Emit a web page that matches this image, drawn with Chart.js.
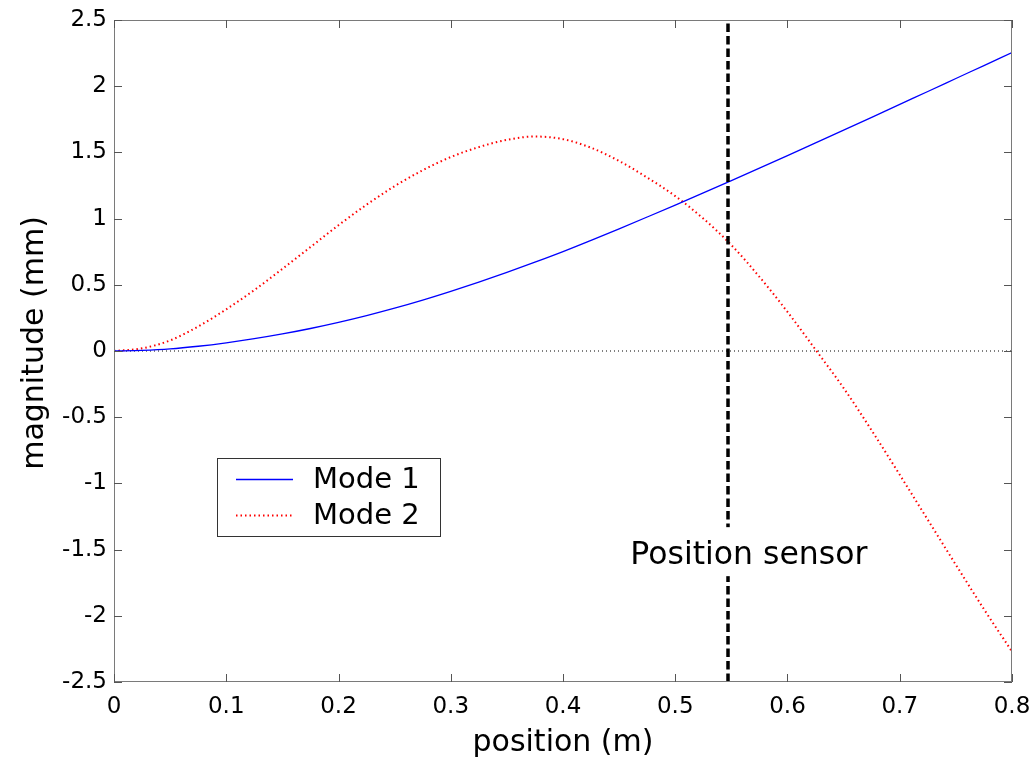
<!DOCTYPE html>
<html>
<head>
<meta charset="utf-8">
<script src="https://cdn.jsdelivr.net/npm/chart.js@4.4.1/dist/chart.umd.min.js"></script>
<style>
  html, body { margin: 0; padding: 0; background: #fff; }
  #wrap { width: 1033px; height: 757px; }
</style>
</head>
<body>
<div id="wrap"><canvas id="chart" width="1033" height="757"></canvas></div>
<script>
// positions along the beam (m)
const positions = [0, 0.025, 0.05, 0.075, 0.1, 0.125, 0.15, 0.175, 0.2, 0.225, 0.25, 0.275, 0.3,
  0.325, 0.35, 0.375, 0.4, 0.425, 0.45, 0.475, 0.5, 0.525, 0.55, 0.575, 0.6, 0.625, 0.65,
  0.675, 0.7, 0.725, 0.75, 0.775, 0.8];

// mode shapes, magnitude in mm
const mode1 = [0, 0.005, 0.016, 0.036, 0.062, 0.093, 0.129, 0.17, 0.216, 0.267, 0.323, 0.384, 0.45,
  0.52, 0.594, 0.671, 0.751, 0.836, 0.923, 1.012, 1.102, 1.194, 1.287, 1.381, 1.476, 1.572, 1.668,
  1.765, 1.863, 1.96, 2.058, 2.156, 2.254];
const mode2 = [0, 0.02, 0.08, 0.185, 0.315, 0.46, 0.62, 0.785, 0.95, 1.105, 1.245, 1.365, 1.465,
  1.54, 1.595, 1.62, 1.6, 1.535, 1.435, 1.31, 1.17, 1.0, 0.8, 0.56, 0.295, 0.01, -0.28,
  -0.6, -0.935, -1.275, -1.615, -1.95, -2.27];

const sensorPosition = 0.547;
const sensorLabel = 'Position sensor';
const sensorLabelAt = [0.46, -1.61]; // left / baseline of the text, data units

const xTicks = [0, 0.1, 0.2, 0.3, 0.4, 0.5, 0.6, 0.7, 0.8];
const xTickLabels = ['0', '0.1', '0.2', '0.3', '0.4', '0.5', '0.6', '0.7', '0.8'];
const yTicks = [-2.5, -2, -1.5, -1, -0.5, 0, 0.5, 1, 1.5, 2, 2.5];
const yTickLabels = ['-2.5', '-2', '-1.5', '-1', '-0.5', '0', '0.5', '1', '1.5', '2', '2.5'];

const xTitle = 'position (m)';
const yTitle = 'magnitude (mm)';

const FONT = "'DejaVu Sans', sans-serif";

const toPoints = (xs, ys) => xs.map((v, i) => ({ x: v, y: ys[i] }));

// box, inward tick marks, y title, sensor text and legend
const decorPlugin = {
  id: 'decor',
  afterDatasetsDraw(chart) {
    const { ctx, chartArea: a, scales: { x, y } } = chart;
    ctx.save();

    ctx.lineWidth = 1;
    ctx.strokeStyle = '#7a7a7a';
    ctx.strokeRect(a.left + 0.5, a.top + 0.5, a.right - a.left - 1, a.bottom - a.top - 1);

    const len = 8;
    ctx.strokeStyle = '#555';
    ctx.beginPath();
    xTicks.forEach(v => {
      const px = Math.round(x.getPixelForValue(v)) + 0.5;
      ctx.moveTo(px, a.bottom); ctx.lineTo(px, a.bottom - len);
      ctx.moveTo(px, a.top); ctx.lineTo(px, a.top + len);
    });
    yTicks.forEach(v => {
      const py = Math.round(y.getPixelForValue(v)) + 0.5;
      ctx.moveTo(a.left, py); ctx.lineTo(a.left + len, py);
      ctx.moveTo(a.right, py); ctx.lineTo(a.right - len, py);
    });
    ctx.stroke();

    // y axis title
    ctx.fillStyle = '#000';
    ctx.font = '30px ' + FONT;
    ctx.textAlign = 'center';
    ctx.textBaseline = 'alphabetic';
    ctx.save();
    ctx.translate(43, (a.top + a.bottom) / 2 - 8);
    ctx.rotate(-Math.PI / 2);
    ctx.fillText(yTitle, 0, 0);
    ctx.restore();

    // sensor text on a white patch
    const tx = x.getPixelForValue(sensorLabelAt[0]);
    const ty = y.getPixelForValue(sensorLabelAt[1]);
    ctx.font = '31.5px ' + FONT;
    const w = ctx.measureText(sensorLabel).width;
    ctx.fillStyle = '#fff';
    ctx.fillRect(tx - 4, ty - 37, w + 10, 49);
    ctx.fillStyle = '#000';
    ctx.textAlign = 'left';
    ctx.fillText(sensorLabel, tx, ty);

    // legend
    const box = { left: 217.5, top: 458.5, width: 223, height: 78 };
    ctx.fillStyle = '#fff';
    ctx.fillRect(box.left, box.top, box.width, box.height);
    ctx.strokeStyle = '#333';
    ctx.lineWidth = 1;
    ctx.strokeRect(box.left, box.top, box.width, box.height);
    const entries = chart.data.datasets.filter(d => d.inLegend);
    ctx.font = '29px ' + FONT;
    ctx.textBaseline = 'middle';
    entries.forEach((d, i) => {
      const ly = 479.5 + i * 36;
      ctx.save();
      ctx.strokeStyle = d.borderColor;
      ctx.lineWidth = d.borderWidth;
      ctx.setLineDash(d.borderDash || []);
      ctx.beginPath();
      ctx.moveTo(236, ly);
      ctx.lineTo(293, ly);
      ctx.stroke();
      ctx.restore();
      ctx.fillStyle = '#000';
      ctx.fillText(d.label, 313, ly + 1);
    });

    ctx.restore();
  }
};

new Chart(document.getElementById('chart'), {
  type: 'line',
  data: {
    datasets: [
      {
        label: 'sensor',
        data: [{ x: sensorPosition, y: yTicks[0] }, { x: sensorPosition, y: yTicks[yTicks.length - 1] }],
        borderColor: '#000',
        borderWidth: 3.5,
        borderDash: [8.5, 4],
        pointRadius: 0
      },
      {
        label: 'Mode 1',
        inLegend: true,
        data: toPoints(positions, mode1),
        borderColor: '#0000ff',
        borderWidth: 1.3,
        pointRadius: 0,
        cubicInterpolationMode: 'monotone'
      },
      {
        label: 'Mode 2',
        inLegend: true,
        data: toPoints(positions, mode2),
        borderColor: '#ff0000',
        borderWidth: 2,
        borderDash: [1.5, 3],
        pointRadius: 0,
        cubicInterpolationMode: 'monotone'
      },
      {
        label: 'zero',
        data: [{ x: xTicks[0], y: 0 }, { x: xTicks[xTicks.length - 1], y: 0 }],
        borderColor: '#000',
        borderWidth: 1,
        borderDash: [1, 3],
        pointRadius: 0
      }
    ]
  },
  options: {
    responsive: false,
    animation: false,
    devicePixelRatio: 1,
    layout: { padding: { top: 20, right: 21, left: 0, bottom: 0 } },
    plugins: { legend: { display: false }, tooltip: { enabled: false } },
    scales: {
      x: {
        type: 'linear',
        min: xTicks[0],
        max: xTicks[xTicks.length - 1],
        afterBuildTicks: s => { s.ticks = xTicks.map(v => ({ value: v })); },
        afterFit: s => { s.height = 75; s.paddingLeft = 0; s.paddingRight = 0; },
        grid: { display: false, drawTicks: false },
        border: { display: false },
        ticks: {
          padding: 11,
          color: '#000',
          font: { family: FONT, size: 23 },
          maxRotation: 0,
          callback: v => xTickLabels[xTicks.indexOf(v)]
        },
        title: {
          display: true,
          text: xTitle,
          color: '#000',
          font: { family: FONT, size: 30, lineHeight: 0.9 },
          padding: 0
        }
      },
      y: {
        type: 'linear',
        min: yTicks[0],
        max: yTicks[yTicks.length - 1],
        afterBuildTicks: s => { s.ticks = yTicks.map(v => ({ value: v })); },
        afterFit: s => { s.width = 114; s.paddingTop = 0; s.paddingBottom = 0; },
        grid: { display: false, drawTicks: false },
        border: { display: false },
        ticks: {
          padding: 7,
          color: '#000',
          font: { family: FONT, size: 23 },
          callback: v => yTickLabels[yTicks.indexOf(v)]
        }
      }
    }
  },
  plugins: [decorPlugin]
});
</script>
</body>
</html>
